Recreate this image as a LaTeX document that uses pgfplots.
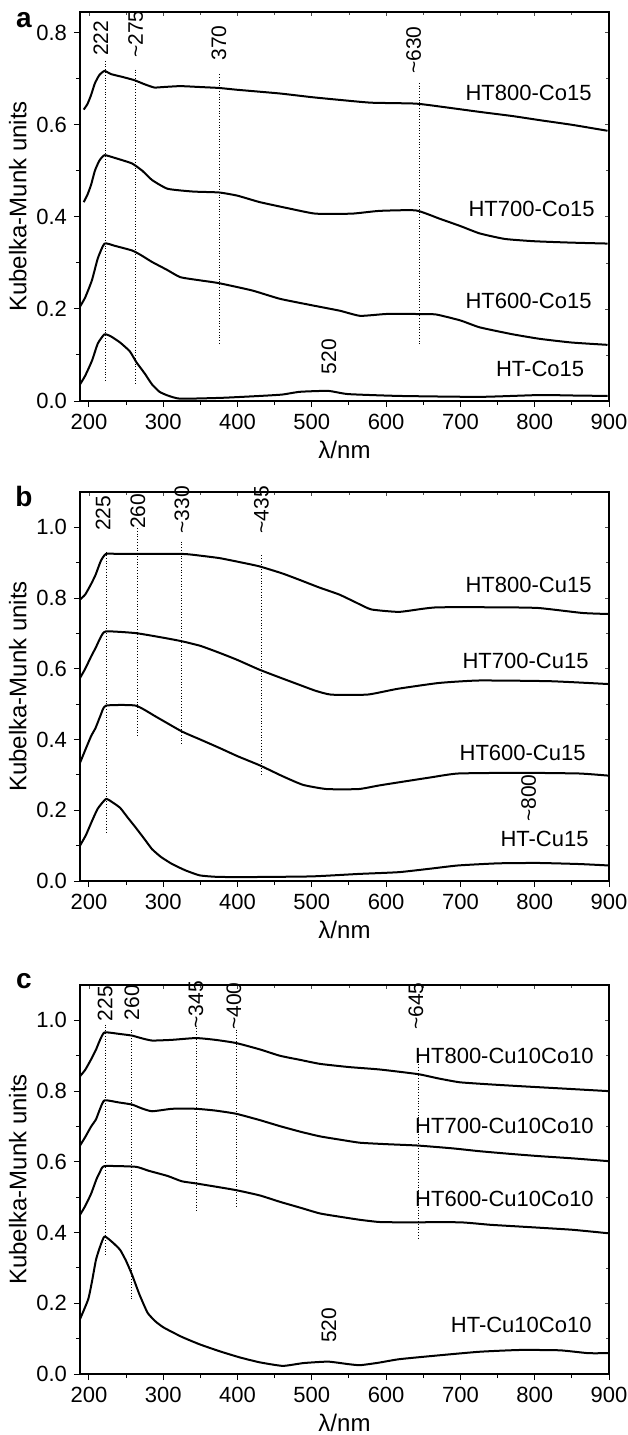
\documentclass[border=0pt]{standalone}
\usepackage{fontspec}
\setmainfont{Liberation Sans}
\usepackage{pgfplots}
\pgfplotsset{compat=1.18}

\pgfplotsset{
  panel/.style={
    width=264.5pt, height=194.5pt, scale only axis,
    xmin=188, xmax=900,
    xtick={200,300,...,900}, minor x tick num=1,
    minor y tick num=1,
    tick align=outside, tick pos=left,
    major tick length=3pt, minor tick length=2pt,
    every tick/.style={black, line width=0.5pt},
    axis line style={black, line width=0.6pt},
    tick label style={font=\fontsize{11}{12}\selectfont},
    label style={font=\fontsize{12}{13}\selectfont},
    xlabel style={yshift=1pt},
    ylabel style={yshift=-2pt},
    /pgf/number format/assume math mode=true,
    yticklabel style={/pgf/number format/fixed, /pgf/number format/fixed zerofill, /pgf/number format/precision=1},
    xlabel={λ/nm}, ylabel={Kubelka-Munk units},
    clip=false,
  },
  mirror/.style={
    width=264.5pt, height=194.5pt, scale only axis,
    xmin=188, xmax=900,
    xtick={200,300,...,900}, minor x tick num=1,
    minor y tick num=1,
    tick align=inside, tick pos=right,
    major tick length=2pt, minor tick length=1.5pt,
    every tick/.style={black!70, line width=0.4pt},
    axis line style={black, line width=0.6pt},
    xticklabels={}, yticklabels={},
  },
  curve/.style={black, line width=1pt, line join=round, smooth, tension=0.3},
  guide/.style={black, densely dotted, line width=0.4pt},
}
\newcommand{\lbl}{\fontsize{11}{12}\selectfont}
\newcommand{\pk}{\fontsize{10.5}{12}\selectfont}

\begin{document}
\begin{tikzpicture}
\path[use as bounding box] (-40pt,6pt) rectangle (273.5pt,-711.5pt);

% ---------- panel a ----------
\begin{axis}[mirror, at={(0,0)}, anchor=north west, ymin=0, ymax=0.845, ytick={0,0.2,...,0.8}]
\end{axis}
\begin{axis}[panel, at={(0,0)}, anchor=north west, ymin=0, ymax=0.845, ytick={0,0.2,0.4,0.6,0.8}]
\addplot[curve] coordinates {(193,0.633) (198,0.645) (203,0.665) (208,0.69) (214,0.708) (221,0.717) (230,0.71) (245,0.704) (261,0.697) (275,0.688) (288,0.681) (300,0.682) (323,0.684) (350,0.682) (375,0.68) (400,0.676) (457,0.668) (500,0.66) (538,0.654) (580,0.648) (640,0.646) (680,0.638) (726,0.628) (770,0.619) (807,0.61) (850,0.6) (898,0.587)};
\addplot[curve] coordinates {(193,0.432) (198,0.448) (203,0.47) (208,0.5) (214,0.522) (221,0.534) (235,0.528) (258,0.516) (272,0.5) (285,0.48) (306,0.461) (340,0.455) (375,0.453) (400,0.446) (430,0.432) (470,0.418) (505,0.407) (554,0.407) (591,0.413) (640,0.414) (672,0.396) (700,0.38) (726,0.364) (760,0.352) (800,0.347) (850,0.344) (898,0.342)};
\addplot[curve] coordinates {(188,0.205) (195,0.225) (204,0.262) (212,0.31) (221,0.342) (235,0.337) (258,0.327) (270,0.317) (285,0.302) (305,0.285) (323,0.269) (350,0.262) (375,0.256) (420,0.24) (457,0.222) (500,0.208) (538,0.196) (565,0.185) (600,0.189) (640,0.189) (667,0.188) (700,0.175) (726,0.16) (770,0.145) (807,0.135) (850,0.127) (898,0.122)};
\addplot[curve] coordinates {(188,0.036) (195,0.055) (204,0.087) (212,0.125) (221,0.145) (230,0.14) (242,0.127) (255,0.108) (264,0.084) (275,0.06) (285,0.036) (295,0.02) (306,0.012) (323,0.005) (380,0.007) (430,0.011) (460,0.014) (484,0.02) (522,0.022) (549,0.015) (618,0.011) (726,0.009) (807,0.013) (850,0.012) (898,0.011)};
\addplot[guide] coordinates {(222,0.739) (222,0.04)};
\addplot[guide] coordinates {(263,0.72) (263,0.038)};
\addplot[guide] coordinates {(375,0.71) (375,0.122)};
\addplot[guide] coordinates {(645,0.691) (645,0.12)};
\node[rotate=90,font=\pk] at (axis cs:216,0.788) {222};
\node[rotate=90,font=\pk] at (axis cs:263,0.797) {\textasciitilde275};
\node[rotate=90,font=\pk] at (axis cs:375,0.778) {370};
\node[rotate=90,font=\pk] at (axis cs:637,0.762) {\textasciitilde630};
\node[rotate=90,font=\pk] at (axis cs:523,0.096) {520};
\node[anchor=east,font=\lbl] at (axis cs:886,0.669) {HT800-Co15};
\node[anchor=east,font=\lbl] at (axis cs:890,0.418) {HT700-Co15};
\node[anchor=east,font=\lbl] at (axis cs:886,0.217) {HT600-Co15};
\node[anchor=east,font=\lbl] at (axis cs:876,0.069) {HT-Co15};
\node[font=\bfseries\fontsize{14}{14}\selectfont] at (rel axis cs:0,1) [xshift=-28pt,yshift=-4pt] {a};
\end{axis}

% ---------- panel b ----------
\begin{axis}[mirror, at={(0,-240pt)}, anchor=north west, ymin=0, ymax=1.1, ytick={0,0.2,...,1.0}]
\end{axis}
\begin{axis}[panel, at={(0,-240pt)}, anchor=north west, ymin=0, ymax=1.1, ytick={0,0.2,0.4,0.6,0.8,1.0}]
\addplot[curve] coordinates {(188,0.796) (195,0.81) (203,0.84) (209,0.866) (216,0.905) (223,0.925) (242,0.925) (325,0.925) (350,0.92) (376,0.913) (400,0.903) (429,0.89) (460,0.87) (483,0.852) (510,0.83) (537,0.81) (560,0.787) (580,0.768) (617,0.761) (650,0.77) (671,0.774) (750,0.774) (805,0.772) (864,0.758) (899,0.755)};
\addplot[curve] coordinates {(188,0.574) (195,0.6) (203,0.635) (209,0.659) (216,0.69) (223,0.706) (263,0.701) (300,0.688) (325,0.678) (350,0.665) (376,0.645) (400,0.625) (429,0.598) (455,0.577) (483,0.555) (505,0.538) (526,0.527) (574,0.527) (600,0.537) (617,0.544) (671,0.56) (725,0.567) (821,0.565) (899,0.557)};
\addplot[curve] coordinates {(188,0.334) (195,0.37) (203,0.41) (209,0.433) (216,0.47) (223,0.496) (263,0.496) (290,0.465) (325,0.423) (350,0.4) (376,0.376) (400,0.353) (430,0.327) (460,0.297) (488,0.272) (520,0.26) (563,0.26) (590,0.27) (617,0.279) (660,0.293) (697,0.304) (780,0.306) (860,0.304) (899,0.298)};
\addplot[curve] coordinates {(188,0.1) (196,0.13) (204,0.169) (212,0.205) (223,0.232) (232,0.222) (242,0.207) (252,0.18) (263,0.151) (275,0.118) (285,0.09) (297,0.068) (312,0.048) (330,0.03) (349,0.016) (370,0.012) (403,0.011) (499,0.013) (563,0.02) (617,0.025) (660,0.035) (697,0.044) (751,0.05) (805,0.051) (860,0.048) (899,0.044)};
\addplot[guide] coordinates {(223,0.93) (223,0.134)};
\addplot[guide] coordinates {(265,0.998) (265,0.405)};
\addplot[guide] coordinates {(325,0.96) (325,0.389)};
\addplot[guide] coordinates {(432,0.921) (432,0.3)};
\node[rotate=90,font=\pk] at (axis cs:219,1.04) {225};
\node[rotate=90,font=\pk] at (axis cs:266,1.045) {260};
\node[rotate=90,font=\pk] at (axis cs:325,1.05) {\textasciitilde330};
\node[rotate=90,font=\pk] at (axis cs:432,1.05) {\textasciitilde435};
\node[rotate=90,font=\pk] at (axis cs:792,0.234) {\textasciitilde800};
\node[anchor=east,font=\lbl] at (axis cs:886,0.838) {HT800-Cu15};
\node[anchor=east,font=\lbl] at (axis cs:882,0.623) {HT700-Cu15};
\node[anchor=east,font=\lbl] at (axis cs:878,0.362) {HT600-Cu15};
\node[anchor=east,font=\lbl] at (axis cs:882,0.118) {HT-Cu15};
\node[font=\bfseries\fontsize{14}{14}\selectfont] at (rel axis cs:0,1) [xshift=-28pt,yshift=-2pt] {b};
\end{axis}

% ---------- panel c ----------
\begin{axis}[mirror, at={(0,-486.5pt)}, anchor=north west, ymin=0, ymax=1.1, ytick={0,0.2,...,1.0}]
\end{axis}
\begin{axis}[panel, at={(0,-486.5pt)}, anchor=north west, ymin=0, ymax=1.1, ytick={0,0.2,0.4,0.6,0.8,1.0}]
\addplot[curve] coordinates {(188,0.842) (195,0.86) (203,0.89) (209.5,0.917) (215,0.945) (221,0.966) (240,0.962) (258,0.957) (270,0.95) (285,0.943) (312,0.945) (344,0.95) (370,0.945) (398,0.936) (430,0.918) (457,0.9) (485,0.888) (511,0.877) (550,0.868) (592,0.861) (643,0.848) (670,0.836) (699,0.825) (740,0.819) (780,0.814) (840,0.807) (899,0.8)};
\addplot[curve] coordinates {(188,0.646) (195,0.67) (203,0.7) (209.5,0.72) (215,0.75) (221,0.774) (240,0.768) (258,0.762) (270,0.752) (285,0.743) (312,0.75) (344,0.75) (370,0.745) (398,0.736) (430,0.718) (457,0.701) (485,0.685) (511,0.672) (540,0.662) (565,0.654) (600,0.65) (643,0.646) (690,0.638) (726,0.63) (770,0.622) (807,0.616) (850,0.61) (899,0.602)};
\addplot[curve] coordinates {(188,0.45) (195,0.475) (203,0.51) (210,0.55) (215,0.572) (221,0.588) (263,0.586) (280,0.575) (306,0.56) (325,0.545) (344,0.539) (370,0.53) (398,0.52) (430,0.505) (457,0.487) (485,0.47) (511,0.454) (540,0.444) (565,0.436) (590,0.43) (618,0.429) (699,0.429) (740,0.422) (780,0.417) (850,0.408) (899,0.398)};
\addplot[curve] coordinates {(188,0.155) (199,0.211) (204,0.26) (209.5,0.323) (215,0.36) (221,0.389) (232,0.372) (242,0.351) (250,0.32) (258,0.281) (268,0.225) (279,0.173) (290,0.148) (301,0.131) (325,0.105) (349,0.084) (375,0.065) (403,0.047) (430,0.033) (461,0.023) (489,0.031) (522,0.035) (549,0.028) (565,0.025) (590,0.032) (618,0.042) (672,0.053) (726,0.063) (780,0.068) (834,0.067) (872,0.059) (899,0.059)};
\addplot[guide] coordinates {(222,0.988) (222,0.337)};
\addplot[guide] coordinates {(257,0.974) (257,0.211)};
\addplot[guide] coordinates {(344,0.978) (344,0.459)};
\addplot[guide] coordinates {(398,0.974) (398,0.473)};
\addplot[guide] coordinates {(643,0.9) (643,0.384)};
\node[rotate=90,font=\pk] at (axis cs:222,1.047) {225};
\node[rotate=90,font=\pk] at (axis cs:258,1.05) {260};
\node[rotate=90,font=\pk] at (axis cs:344,1.044) {\textasciitilde345};
\node[rotate=90,font=\pk] at (axis cs:395,1.04) {\textasciitilde400};
\node[rotate=90,font=\pk] at (axis cs:640,1.04) {\textasciitilde645};
\node[rotate=90,font=\pk] at (axis cs:523,0.138) {520};
\node[anchor=east,font=\lbl] at (axis cs:889,0.9) {HT800-Cu10Co10};
\node[anchor=east,font=\lbl] at (axis cs:889,0.701) {HT700-Cu10Co10};
\node[anchor=east,font=\lbl] at (axis cs:889,0.494) {HT600-Cu10Co10};
\node[anchor=east,font=\lbl] at (axis cs:886,0.138) {HT-Cu10Co10};
\node[font=\bfseries\fontsize{14}{14}\selectfont] at (rel axis cs:0,1) [xshift=-28pt,yshift=2pt] {c};
\end{axis}
\end{tikzpicture}
\end{document}
